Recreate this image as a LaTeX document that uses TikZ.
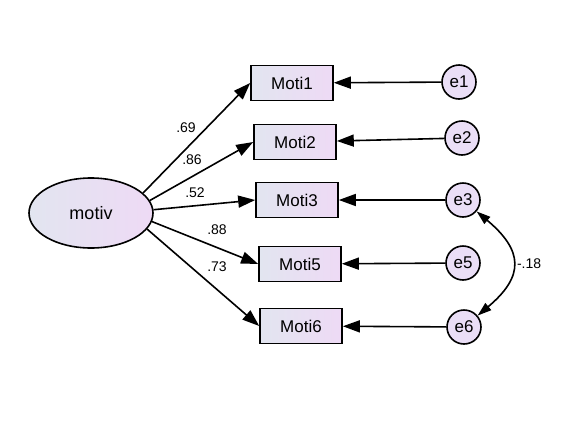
\documentclass[tikz,border=0pt]{standalone}
\usepackage{fontspec}
\setmainfont{Liberation Sans}
\usepackage{tikz}
\usetikzlibrary{shapes.geometric,arrows.meta,positioning,calc}
\definecolor{boxLeft}{RGB}{226,229,240}
\definecolor{boxRight}{RGB}{238,218,245}
\definecolor{errFill}{RGB}{234,222,246}
\tikzset{
  obs/.style={draw,line width=1.6pt,minimum width=82pt,minimum height=35pt,
              left color=boxLeft,right color=boxRight,
              font=\fontsize{17}{20}\selectfont},
  lat/.style={draw,ellipse,line width=1.6pt,minimum width=124pt,minimum height=70pt,
              left color=boxLeft,right color=boxRight,
              font=\fontsize{18}{21}\selectfont},
  err/.style={draw,circle,line width=1.6pt,minimum size=34pt,inner sep=0pt,fill=errFill,
              font=\fontsize{17}{20}\selectfont},
  lbl/.style={font=\fontsize{14}{16}\selectfont,inner sep=0pt},
  arr/.style={-{Triangle[length=17pt,width=12pt]},line width=1.6pt},
  carr/.style={{Triangle[length=14pt,width=9pt]}-{Triangle[length=14pt,width=9pt]},line width=1.6pt},
}
\begin{document}
\begin{tikzpicture}[x=1pt,y=-1pt]
  \useasboundingbox (0,0) rectangle (579,421);
  \node[lat] (motiv) at (91,213) {motiv};
  \node[obs] (m1) at (292,83)  {Moti1};
  \node[obs] (m2) at (295,142) {Moti2};
  \node[obs] (m3) at (297,200) {Moti3};
  \node[obs] (m5) at (300,264) {Moti5};
  \node[obs] (m6) at (301,326) {Moti6};
  \node[err] (e1) at (459,82)  {e1};
  \node[err] (e2) at (462,138) {e2};
  \node[err] (e3) at (463,200) {e3};
  \node[err] (e5) at (463,263) {e5};
  \node[err] (e6) at (464,327) {e6};

  % loadings
  \draw[arr] (motiv.21)  -- (m1.west);
  \draw[arr] (motiv.12)  -- (m2.west);
  \draw[arr] (motiv.3)   -- (m3.west);
  \draw[arr] (motiv.-8)  -- (m5.west);
  \draw[arr] (motiv.-16) -- (m6.west);
  \node[lbl] (l1) at (186,128) {.69};
  \node[lbl] (l2) at (192,160) {.86};
  \node[lbl] (l3) at (195,193) {.52};
  \node[lbl] (l5) at (217,230) {.88};
  \node[lbl] (l6) at (217,267) {.73};

  % errors
  \draw[arr] (e1) -- (m1);
  \draw[arr] (e2) -- (m2);
  \draw[arr] (e3) -- (m3);
  \draw[arr] (e5) -- (m5);
  \draw[arr] (e6) -- (m6);
  \draw[carr] (e3) to[out=-40,in=40,looseness=1.5] node[lbl,right=4pt] (c36) {-.18} (e6);
\end{tikzpicture}
\end{document}
